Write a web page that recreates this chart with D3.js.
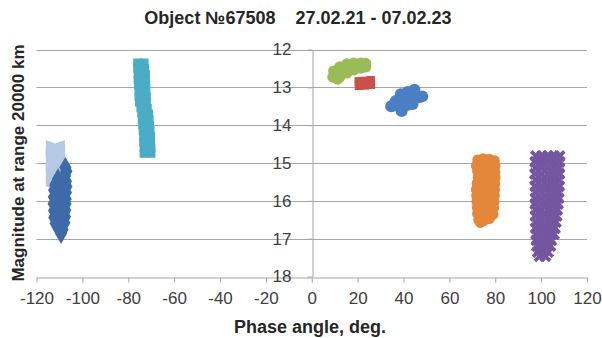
<!DOCTYPE html>
<html>
<head>
<meta charset="utf-8">
<script src="https://cdn.jsdelivr.net/npm/d3@7"></script>
<style>
  html, body { margin: 0; padding: 0; background: #fff; }
  svg { display: block; font-family: "Liberation Sans", Arial, sans-serif; }
</style>
</head>
<body>
<svg id="chart" width="602" height="338"></svg>
<script>
// ---- data: [phase angle (deg), magnitude] ----
const titleText = "Object \u211667508    27.02.21 - 07.02.23";
const xTicks = [-120, -100, -80, -60, -40, -20, 0, 20, 40, 60, 80, 100, 120];
const yTicks = [12, 13, 14, 15, 16, 17, 18];

const lightBluePts = [
  [-111.8, 14.55], [-111.6, 14.65], [-111.9, 14.75], [-111.7, 14.85], [-111.8, 14.95],
  [-111.6, 15.05], [-111.9, 15.15], [-111.7, 15.25], [-111.8, 15.35], [-111.6, 15.45],
  [-111.8, 15.55]
];
const darkBluePts = [
  [-107.4, 15.12], [-107.0, 15.22], [-107.6, 15.34], [-110.6, 15.42], [-107.2, 15.48],
  [-111.8, 15.58], [-109.2, 15.55], [-107.0, 15.62], [-112.3, 15.72], [-109.8, 15.75],
  [-107.2, 15.78], [-112.4, 15.90], [-110.0, 15.92], [-107.3, 15.95], [-112.5, 16.08],
  [-109.9, 16.10], [-107.4, 16.08], [-112.3, 16.26], [-110.1, 16.28], [-107.5, 16.25],
  [-112.2, 16.44], [-109.8, 16.45], [-107.6, 16.42], [-111.6, 16.60], [-109.3, 16.62],
  [-107.9, 16.58], [-110.3, 16.74], [-108.7, 16.76], [-109.3, 16.86],
  [-111.0, 15.50], [-111.2, 16.00], [-108.6, 16.18], [-111.0, 16.52], [-108.5, 15.86]
];
const cyanPts = [
  [-76.0, 12.35], [-73.0, 12.35], [-76.0, 12.50], [-72.8, 12.50], [-75.8, 12.65], [-72.4, 12.65],
  [-75.8, 12.80], [-72.4, 12.80], [-75.6, 12.95], [-72.3, 12.95], [-75.4, 13.10], [-72.2, 13.10],
  [-75.4, 13.25], [-72.0, 13.25], [-75.2, 13.40], [-72.0, 13.40], [-74.6, 13.55], [-71.6, 13.55],
  [-74.2, 13.70], [-71.0, 13.70], [-74.0, 13.85], [-70.8, 13.85], [-73.8, 14.00], [-70.6, 14.00],
  [-73.6, 14.15], [-70.4, 14.15], [-73.4, 14.30], [-70.2, 14.30], [-73.4, 14.45], [-70.2, 14.45],
  [-73.2, 14.60], [-70.0, 14.60], [-73.2, 14.75], [-70.0, 14.75]
];
const greenPts = [
  [9.6, 12.57], [12.2, 12.46], [15.3, 12.38], [18.3, 12.36], [21.4, 12.36], [23.5, 12.37],
  [9.2, 12.73], [12.2, 12.73], [15.3, 12.62], [18.3, 12.54], [21.4, 12.49], [23.5, 12.46],
  [11.3, 12.78], [10.8, 12.65], [16.8, 12.50], [20.0, 12.42]
];
const redPts = [
  [20.5, 12.84], [23.1, 12.83], [25.7, 12.81], [20.6, 12.96], [23.2, 12.95], [25.8, 12.93]
];
const bluePts = [
  [38.8, 13.18], [41.8, 13.12], [44.5, 13.10], [47.1, 13.26], [36.6, 13.36], [39.7, 13.33],
  [42.7, 13.28], [45.3, 13.28], [35.3, 13.49], [38.4, 13.52], [41.4, 13.47], [44.0, 13.44],
  [39.2, 13.63], [34.6, 13.50], [48.2, 13.24], [44.8, 13.06]
];
const orangePts = [
  [72.4, 14.92], [74.6, 14.89], [77.3, 14.90], [79.6, 14.94],
  [71.8, 15.07], [74.5, 15.05], [77.1, 15.06], [79.9, 15.08],
  [72.3, 15.22], [74.7, 15.23], [77.2, 15.21], [79.8, 15.24],
  [72.6, 15.38], [74.4, 15.37], [77.0, 15.39], [79.9, 15.38],
  [72.1, 15.54], [74.6, 15.55], [77.3, 15.53], [79.8, 15.55],
  [71.8, 15.70], [74.5, 15.71], [77.1, 15.69], [79.7, 15.71],
  [71.9, 15.86], [74.4, 15.87], [77.2, 15.85], [79.6, 15.86],
  [72.0, 16.02], [74.6, 16.01], [77.0, 16.03], [79.5, 16.02],
  [72.2, 16.18], [74.5, 16.19], [77.1, 16.17], [79.3, 16.18],
  [72.3, 16.34], [74.6, 16.35], [77.0, 16.33], [79.0, 16.36],
  [72.8, 16.50], [75.0, 16.52], [77.4, 16.47], [73.5, 16.57]
];
const purplePts = [
  [97.8, 14.82], [100.4, 14.82], [103.0, 14.82], [105.6, 14.82], [108.0, 14.82],
  [97.5, 14.97], [100.2, 14.97], [102.8, 14.97], [105.4, 14.97], [107.9, 14.97],
  [97.6, 15.13], [100.3, 15.13], [102.9, 15.13], [105.5, 15.13], [107.8, 15.13],
  [97.4, 15.29], [100.1, 15.29], [103.0, 15.29], [105.6, 15.29], [107.9, 15.29],
  [97.6, 15.45], [100.3, 15.45], [102.8, 15.45], [105.4, 15.45], [107.7, 15.45],
  [97.5, 15.61], [100.2, 15.61], [102.9, 15.61], [105.5, 15.61], [107.8, 15.61],
  [97.7, 15.77], [100.4, 15.77], [103.1, 15.77], [105.6, 15.77], [107.6, 15.77],
  [97.6, 15.93], [100.2, 15.93], [102.9, 15.93], [105.3, 15.93], [107.5, 15.93],
  [97.5, 16.08], [100.3, 16.08], [102.8, 16.08], [105.4, 16.08], [107.3, 16.08],
  [97.7, 16.24], [100.1, 16.24], [102.9, 16.24], [105.2, 16.24], [107.0, 16.24],
  [97.6, 16.40], [100.2, 16.40], [102.7, 16.40], [105.1, 16.40], [106.7, 16.40],
  [97.8, 16.56], [100.3, 16.56], [102.8, 16.56], [104.9, 16.56], [106.4, 16.56],
  [97.7, 16.72], [100.2, 16.72], [102.6, 16.72], [104.8, 16.72], [106.0, 16.72],
  [97.9, 16.88], [100.4, 16.88], [102.7, 16.88], [104.6, 16.88], [105.6, 16.88],
  [98.0, 17.04], [100.3, 17.04], [102.5, 17.04], [104.4, 17.04],
  [98.2, 17.19], [100.5, 17.19], [102.7, 17.19], [104.0, 17.19],
  [98.6, 17.35], [100.8, 17.35], [103.0, 17.35],
  [99.4, 17.46], [101.8, 17.46]
];

// ---- custom marker shapes ----
const chevronSymbol = {
  draw(ctx, size) {
    const w = Math.sqrt(size) * 0.8, h = Math.sqrt(size) * 0.5, d = h * 0.6;
    ctx.moveTo(-w, -h); ctx.lineTo(0, -h + d); ctx.lineTo(w, -h);
    ctx.lineTo(w, h - d); ctx.lineTo(0, h); ctx.lineTo(-w, h - d); ctx.closePath();
  }
};
const xSymbol = {
  draw(ctx, size) {
    const r = Math.sqrt(size) / 2, t = r * 0.42;
    ctx.moveTo(-r, -r + t); ctx.lineTo(-r + t, -r); ctx.lineTo(0, -t); ctx.lineTo(r - t, -r);
    ctx.lineTo(r, -r + t); ctx.lineTo(t, 0); ctx.lineTo(r, r - t); ctx.lineTo(r - t, r);
    ctx.lineTo(0, t); ctx.lineTo(-r + t, r); ctx.lineTo(-r, r - t); ctx.lineTo(-t, 0);
    ctx.closePath();
  }
};

const series = [
  { pts: lightBluePts, color: "#b5c8e4", type: chevronSymbol, size: 140 },
  { pts: darkBluePts, color: "#3e6ba8", type: d3.symbolDiamond, size: 130 },
  { pts: cyanPts, color: "#4bacc6", type: d3.symbolSquare, size: 72 },
  { pts: greenPts, color: "#9bbb59", type: d3.symbolCircle, size: 100 },
  { pts: redPts, color: "#c9504b", type: d3.symbolSquare, size: 72 },
  { pts: bluePts, color: "#4a7fc4", type: d3.symbolCircle, size: 110 },
  { pts: orangePts, color: "#e4873a", type: d3.symbolCircle, size: 95 },
  { pts: purplePts, color: "#7456a0", type: xSymbol, size: 150 }
];

// ---- layout ----
const svg = d3.select("#chart");
const x = d3.scaleLinear().domain([-120, 120]).range([36.5, 587]);
const y = d3.scaleLinear().domain([12, 18]).range([49.5, 276.5]);
const gridColor = "#a6a6a6";
const fmt = d => String(d);
const tickFont = "17px";
const titleFont = "18px";

// horizontal gridlines
svg.append("g").selectAll("line").data(yTicks.slice(0, -1)).join("line")
  .attr("x1", x(-120)).attr("x2", x(120))
  .attr("y1", d => Math.round(y(d)) + 0.5).attr("y2", d => Math.round(y(d)) + 0.5)
  .attr("stroke", gridColor).attr("stroke-width", 1);

// x axis along magnitude 18
const xAxis = svg.append("g")
  .attr("transform", `translate(0,${Math.round(y(18)) + 0.5})`)
  .call(d3.axisBottom(x).tickValues(xTicks).tickFormat(fmt).tickSize(5).tickSizeOuter(0).tickPadding(9));
xAxis.select(".domain").attr("stroke", gridColor);
xAxis.selectAll(".tick line").attr("stroke", gridColor);
xAxis.selectAll(".tick text").attr("fill", "#404040")
  .style("font-size", tickFont).style("font-family", "Liberation Sans, Arial, sans-serif");

// y axis crossing at phase 0
const yAxis = svg.append("g")
  .attr("transform", `translate(${Math.round(x(0)) + 0.5},0)`)
  .call(d3.axisLeft(y).tickValues(yTicks).tickFormat(fmt).tickSize(5).tickSizeOuter(0).tickPadding(16));
yAxis.select(".domain").attr("stroke", gridColor);
yAxis.selectAll(".tick line").attr("stroke", gridColor);
yAxis.selectAll(".tick text").attr("fill", "#404040")
  .style("font-size", tickFont).style("font-family", "Liberation Sans, Arial, sans-serif");

// markers
const gPts = svg.append("g");
series.forEach(s => {
  const sym = d3.symbol().type(s.type).size(s.size);
  gPts.append("g").selectAll("path").data(s.pts).join("path")
    .attr("transform", d => `translate(${x(d[0])},${y(d[1])})`)
    .attr("d", sym)
    .attr("fill", s.color);
});

// titles
svg.append("text").attr("x", 298).attr("y", 24).attr("text-anchor", "middle")
  .style("font-size", titleFont).style("font-weight", "bold").style("white-space", "pre")
  .attr("xml:space", "preserve").attr("fill", "#262626")
  .text(titleText);
svg.append("text").attr("x", 310).attr("y", 333).attr("text-anchor", "middle")
  .style("font-size", titleFont).style("font-weight", "bold").attr("fill", "#262626")
  .text("Phase angle, deg.");
svg.append("text").attr("transform", "translate(24,163) rotate(-90)").attr("text-anchor", "middle")
  .style("font-size", "17px").style("font-weight", "bold").attr("fill", "#262626")
  .text("Magnitude at range 20000 km");
</script>
</body>
</html>
